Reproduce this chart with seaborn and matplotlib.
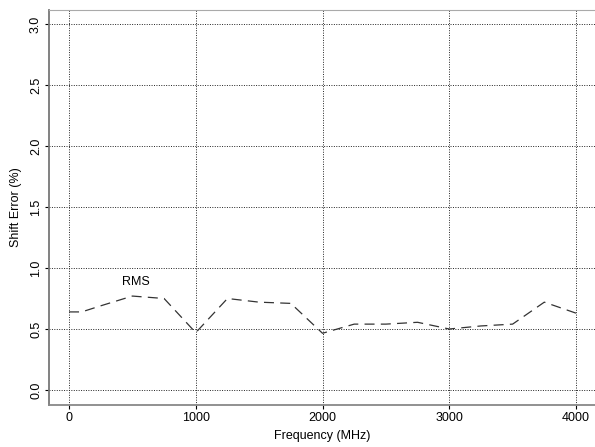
import numpy as np
import pandas as pd
import seaborn as sns
import matplotlib
matplotlib.use('Agg')
import matplotlib.pyplot as plt

frequency = [0, 100, 250, 500, 750, 1000, 1250, 1500, 1750, 2000,
             2250, 2500, 2750, 3000, 3250, 3500, 3750, 4000]
rms_error = [0.64, 0.64, 0.69, 0.77, 0.75, 0.47, 0.75, 0.72, 0.71, 0.465,
             0.54, 0.54, 0.555, 0.50, 0.525, 0.54, 0.72, 0.63]
x_ticks = [0, 1000, 2000, 3000, 4000]
y_ticks = [0.0, 0.5, 1.0, 1.5, 2.0, 2.5, 3.0]


def main():
    sns.set_style('ticks')
    plt.rcParams['font.family'] = ['Liberation Sans', 'DejaVu Sans']
    df = pd.DataFrame({'Frequency (MHz)': frequency, 'Shift Error (%)': rms_error})

    fig = plt.figure(figsize=(5.95, 4.47), dpi=100)
    ax = fig.add_axes([49 / 595, 42 / 447, 546 / 595, 395 / 447])
    sns.lineplot(data=df, x='Frequency (MHz)', y='Shift Error (%)', ax=ax,
                 color='#333333', linewidth=0.9, linestyle=(0, (8, 5)))

    ax.set_xlim(-158, 4150)
    ax.set_ylim(-0.123, 3.115)
    ax.set_xticks(x_ticks)
    ax.set_yticks(y_ticks)
    ax.set_yticklabels([f'{v:.1f}' for v in y_ticks], rotation=90, va='center')
    ax.grid(True, color='#222222', linestyle=(0, (1, 1.5)), linewidth=0.7)
    ax.tick_params(labelsize=9, length=3, width=0.8, pad=2,
                   colors='black', labelcolor='black')
    ax.set_xlabel('Frequency (MHz)', fontsize=9, labelpad=4, color='black')
    ax.set_ylabel('Shift Error (%)', fontsize=9, labelpad=6, color='black')
    ax.spines['left'].set_color('#777777')
    ax.spines['left'].set_linewidth(1.3)
    ax.spines['bottom'].set_color('#888888')
    ax.spines['bottom'].set_linewidth(1.3)
    ax.spines['top'].set_color('#aaaaaa')
    ax.spines['right'].set_visible(False)
    ax.text(530, 0.885, 'RMS', fontsize=9, ha='center', va='center', color='black')

    fig.savefig('out.png', dpi=100)


if __name__ == '__main__':
    main()
